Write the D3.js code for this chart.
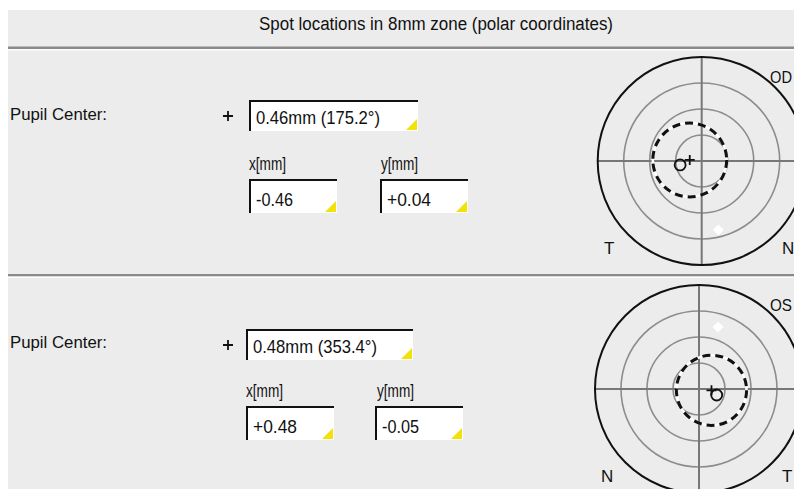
<!DOCTYPE html>
<html>
<head>
<meta charset="utf-8">
<script src="https://cdn.jsdelivr.net/npm/d3@7"></script>
<style>
  body { margin: 0; background: #fff; }
  svg { display: block; }
  text { font-family: "Liberation Sans", Arial, sans-serif; fill: #111; }
</style>
</head>
<body>
<div id="chart"></div>
<script>
// data
const title = "Spot locations in 8mm zone (polar coordinates)";
const eyes = ["OD", "OS"];
const sideLabels = [["T", "N"], ["N", "T"]];
const pupilX = [-0.46, 0.48];          // mm
const pupilY = [0.04, -0.05];          // mm
const pupilDist = [0.46, 0.48];        // mm
const pupilAngle = [175.2, 353.4];     // deg
const pupilRadius = [1.42, 1.35];      // mm, dashed outline
const vertexX = [-0.83, 0.68];         // small open circle
const vertexY = [-0.15, -0.23];
const spotX = [0.64, 0.73];            // white diamond
const spotY = [-2.65, 2.38];
const ringRadii = [1, 2, 3, 4];        // mm

const W = 794, H = 489;
const bg = "#ececec";

const svg = d3.select("#chart").append("svg")
  .attr("width", W).attr("height", H);

// panel background
svg.append("rect").attr("x", 8).attr("y", 10)
  .attr("width", W - 8).attr("height", H - 10).attr("fill", bg);

// title
svg.append("text").attr("x", 436).attr("y", 30)
  .attr("text-anchor", "middle").attr("font-size", 18)
  .attr("textLength", 354).attr("lengthAdjust", "spacingAndGlyphs")
  .text(title);

// separators
function separator(y) {
  svg.append("rect").attr("x", 8).attr("y", y).attr("width", W - 8).attr("height", 2.5).attr("fill", "#8a8a8a");
  svg.append("rect").attr("x", 8).attr("y", y + 2.5).attr("width", W - 8).attr("height", 1.5).attr("fill", "#fbfbfb");
}
separator(46.5);
separator(274);

// clip the plots to the panel area
svg.append("defs").append("clipPath").attr("id", "clip")
  .append("rect").attr("x", 8).attr("y", 10).attr("width", W - 8).attr("height", H - 10);

// sunken edit box with yellow corner
function editBox(g, x, y, w, h, txt, fs, tl) {
  g.append("rect").attr("x", x).attr("y", y).attr("width", w).attr("height", h).attr("fill", "#fff");
  g.append("path").attr("d", `M${x + 1},${y + h} V${y + 1} H${x + w}`)
    .attr("fill", "none").attr("stroke", "#111").attr("stroke-width", 2);
  g.append("path").attr("d", `M${x + w - 12},${y + h - 1} L${x + w - 1},${y + h - 12} V${y + h - 1} Z`)
    .attr("fill", "#f2e10a");
  const t = g.append("text").attr("x", x + 7).attr("y", y + h - 7)
    .attr("font-size", fs).text(txt);
  if (tl) t.attr("textLength", tl).attr("lengthAdjust", "spacingAndGlyphs");
}

const fmt = v => (v > 0 ? "+" : "") + v.toFixed(2);

// layout of the two panels
const panels = [
  { cx: 701.7, cy: 161, label: 120, boxX: 249, boxY: 100, plusX: 228, xlx: 249, ylx: 381, xby: 179, ybx: 380, lblY: 170, sideY: 254, eyeY: 83 },
  { cx: 699, cy: 389, label: 348, boxX: 246, boxY: 329, plusX: 228, xlx: 246, ylx: 377, xby: 406, ybx: 375, lblY: 397, sideY: 482, eyeY: 311 }
];

panels.forEach((p, i) => {
  const g = svg.append("g");

  g.append("text").attr("x", 10).attr("y", p.label)
    .attr("font-size", 17).attr("textLength", 97).attr("lengthAdjust", "spacingAndGlyphs")
    .text("Pupil Center:");

  // "+" marker before the distance box
  g.append("path").attr("d", `M${p.plusX - 5},${p.boxY + 16} h10 M${p.plusX},${p.boxY + 11} v10`)
    .attr("stroke", "#111").attr("stroke-width", 1.8);

  editBox(g, p.boxX, p.boxY, 169 - (i ? 2 : 0), 31,
    `${pupilDist[i].toFixed(2)}mm (${pupilAngle[i].toFixed(1)}°)`, 19, 124);

  g.append("text").attr("x", p.xlx).attr("y", p.lblY).attr("font-size", 18)
    .attr("textLength", 37).attr("lengthAdjust", "spacingAndGlyphs").text("x[mm]");
  g.append("text").attr("x", p.ylx).attr("y", p.lblY).attr("font-size", 18)
    .attr("textLength", 37).attr("lengthAdjust", "spacingAndGlyphs").text("y[mm]");

  editBox(g, p.xlx, p.xby, 88, 34, fmt(pupilX[i]), 19, pupilX[i] > 0 ? 44 : 37);
  editBox(g, p.ybx, p.xby, 88, 34, fmt(pupilY[i]), 19, pupilY[i] > 0 ? 44 : 37);

  // polar plot
  const R = 104;
  const x = d3.scaleLinear().domain([-4, 4]).range([p.cx - R, p.cx + R]);
  const y = d3.scaleLinear().domain([-4, 4]).range([p.cy + R, p.cy - R]);
  const k = x(1) - x(0);

  const plot = svg.append("g").attr("clip-path", "url(#clip)");

  plot.selectAll(".ring").data(ringRadii.slice(0, -1)).join("circle")
    .attr("cx", x(0)).attr("cy", y(0)).attr("r", d => d * k)
    .attr("fill", "none").attr("stroke", "#8c8c8c").attr("stroke-width", 1.6);

  plot.append("line").attr("x1", x(-4)).attr("x2", x(4)).attr("y1", y(0)).attr("y2", y(0))
    .attr("stroke", "#777").attr("stroke-width", 2);
  plot.append("line").attr("x1", x(0)).attr("x2", x(0)).attr("y1", y(4)).attr("y2", y(-4))
    .attr("stroke", "#777").attr("stroke-width", 2);

  plot.append("circle").attr("cx", x(0)).attr("cy", y(0)).attr("r", 4 * k)
    .attr("fill", "none").attr("stroke", "#111").attr("stroke-width", 2);

  // white diamond spot
  const s = 5.5;
  plot.append("path")
    .attr("d", `M${x(spotX[i])},${y(spotY[i]) - s} l${s},${s} l${-s},${s} l${-s},${-s} Z`)
    .attr("fill", "#fff");

  // pupil outline: white under black dashes
  plot.append("circle").attr("cx", x(pupilX[i])).attr("cy", y(pupilY[i])).attr("r", pupilRadius[i] * k)
    .attr("fill", "none").attr("stroke", "#fff").attr("stroke-width", 2.5);
  plot.append("circle").attr("cx", x(pupilX[i])).attr("cy", y(pupilY[i])).attr("r", pupilRadius[i] * k)
    .attr("fill", "none").attr("stroke", "#111").attr("stroke-width", 3)
    .attr("stroke-dasharray", "8,5");

  // vertex circle
  plot.append("circle").attr("cx", x(vertexX[i])).attr("cy", y(vertexY[i])).attr("r", 5.5)
    .attr("fill", "none").attr("stroke", "#111").attr("stroke-width", 1.8);

  // pupil centre cross
  const px = x(pupilX[i]), py = y(pupilY[i]);
  plot.append("path").attr("d", `M${px - 5},${py} h10 M${px},${py - 5} v10`)
    .attr("stroke", "#111").attr("stroke-width", 1.8);

  // eye and side labels
  plot.append("text").attr("x", 770).attr("y", p.eyeY).attr("font-size", 17)
    .attr("textLength", 22).attr("lengthAdjust", "spacingAndGlyphs").text(eyes[i]);
  plot.append("text").attr("x", i ? 601 : 604).attr("y", p.sideY).attr("font-size", 17).text(sideLabels[i][0]);
  plot.append("text").attr("x", 782).attr("y", p.sideY).attr("font-size", 17).text(sideLabels[i][1]);
});
</script>
</body>
</html>
